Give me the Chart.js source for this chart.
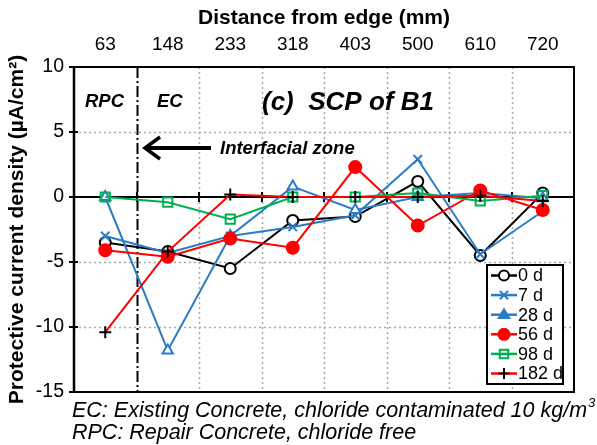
<!DOCTYPE html>
<html>
<head>
<meta charset="utf-8">
<script src="https://cdn.jsdelivr.net/npm/chart.js@4.4.0/dist/chart.umd.min.js"></script>
<style>
  html, body { margin: 0; padding: 0; background: #fff; }
</style>
</head>
<body>
<canvas id="scpChart" width="597" height="445"></canvas>
<script>
// distance from edge (mm) - top axis categories
const distances = ['63', '148', '233', '318', '403', '500', '610', '720'];
const yTicks = [10, 5, 0, -5, -10, -15];

// protective current density (uA/cm2)
const day0   = [-3.5, -4.2, -5.5, -1.8, -1.5, 1.2, -4.5, 0.3];
const day7   = [-3.0, -4.3, -3.0, -2.3, -1.4, 2.9, -4.4, -1.1];
const day28  = [0.0, -11.8, -3.0, 0.8, -1.0, 0.0, 0.3, -0.1];
const day56  = [-4.1, -4.6, -3.2, -3.9, 2.3, -2.2, 0.5, -1.0];
const day98  = [0.0, -0.4, -1.7, 0.0, 0.0, 0.3, -0.3, 0.1];
const day182 = [-10.4, -4.2, 0.2, 0.0, 0.0, 0.0, 0.1, -0.3];

const BLUE = '#2a7cc7';
const RED = '#ff0000';
const GREEN = '#00b050';
const FONT = '"Liberation Sans", Arial, sans-serif';

const series = [
  { label: '0 d',   data: day0,   line: '#000', style: 'circle',   r: 5.5, fill: '#fff',  pt: '#000', legendFill: '#fff' },
  { label: '7 d',   data: day7,   line: BLUE,   style: 'crossRot', r: 6,   fill: BLUE,    pt: BLUE,   legendFill: BLUE },
  { label: '28 d',  data: day28,  line: BLUE,   style: 'triangle', r: 6,   fill: '#fff',  pt: BLUE,   legendFill: BLUE },
  { label: '56 d',  data: day56,  line: RED,    style: 'circle',   r: 6,   fill: RED,     pt: RED,    legendFill: RED },
  { label: '98 d',  data: day98,  line: GREEN,  style: 'rect',     r: 6.5, fill: 'rgba(0,0,0,0)', pt: GREEN, legendFill: 'rgba(0,0,0,0)' },
  { label: '182 d', data: day182, line: RED,    style: 'cross',    r: 6,   fill: '#000',  pt: '#000', legendFill: '#000' }
];

function marker(ctx, style, x, y, r, stroke, fill) {
  ctx.save();
  ctx.strokeStyle = stroke;
  ctx.fillStyle = fill;
  ctx.lineWidth = 2;
  ctx.beginPath();
  if (style === 'circle') {
    ctx.arc(x, y, r, 0, Math.PI * 2);
    ctx.fill(); ctx.stroke();
  } else if (style === 'triangle') {
    ctx.moveTo(x, y - r);
    ctx.lineTo(x + r * 0.95, y + r * 0.6);
    ctx.lineTo(x - r * 0.95, y + r * 0.6);
    ctx.closePath();
    ctx.fill(); ctx.stroke();
  } else if (style === 'rect') {
    const s = r * Math.SQRT1_2;
    ctx.rect(x - s, y - s, 2 * s, 2 * s);
    ctx.fill(); ctx.stroke();
  } else if (style === 'cross') {
    ctx.moveTo(x - r, y); ctx.lineTo(x + r, y);
    ctx.moveTo(x, y - r); ctx.lineTo(x, y + r);
    ctx.stroke();
  } else if (style === 'crossRot') {
    const s = r * 0.75;
    ctx.moveTo(x - s, y - s); ctx.lineTo(x + s, y + s);
    ctx.moveTo(x - s, y + s); ctx.lineTo(x + s, y - s);
    ctx.stroke();
  }
  ctx.restore();
}

const decorPlugin = {
  id: 'decor',
  beforeDatasetsDraw(chart) {
    const { ctx, chartArea: a, scales: { x, y } } = chart;
    ctx.save();
    // dotted horizontal grid
    ctx.strokeStyle = '#a6a6a6';
    ctx.lineWidth = 1.5;
    ctx.setLineDash([2, 3]);
    yTicks.forEach(v => {
      if (v === 0 || v === 10 || v === -15) return;
      const py = Math.round(y.getPixelForValue(v)) + 0.5;
      ctx.beginPath(); ctx.moveTo(a.left, py); ctx.lineTo(a.right, py); ctx.stroke();
    });
    // vertical boundaries between categories
    for (let i = 0; i < distances.length - 1; i++) {
      const px = Math.round((x.getPixelForValue(i) + x.getPixelForValue(i + 1)) / 2) + 0.5;
      ctx.beginPath();
      if (i === 0) {
        ctx.strokeStyle = '#000';
        ctx.lineWidth = 2;
        ctx.setLineDash([11, 3, 2, 3]);
      } else {
        ctx.strokeStyle = '#a6a6a6';
        ctx.lineWidth = 1.5;
        ctx.setLineDash([2, 3]);
      }
      ctx.moveTo(px, a.top); ctx.lineTo(px, a.bottom); ctx.stroke();
    }
    ctx.setLineDash([]);
    // zero line with cross tick marks
    const y0 = Math.round(y.getPixelForValue(0));
    ctx.strokeStyle = '#000';
    ctx.lineWidth = 2;
    ctx.beginPath(); ctx.moveTo(a.left, y0); ctx.lineTo(a.right, y0); ctx.stroke();
    for (let i = 0; i < distances.length - 1; i++) {
      const px = Math.round((x.getPixelForValue(i) + x.getPixelForValue(i + 1)) / 2);
      ctx.beginPath(); ctx.moveTo(px, y0 - 5); ctx.lineTo(px, y0 + 5); ctx.stroke();
    }
    // plot frame
    ctx.lineWidth = 2;
    ctx.strokeRect(a.left, a.top, a.right - a.left, a.bottom - a.top);
    ctx.lineWidth = 2.5;
    ctx.beginPath(); ctx.moveTo(a.left, a.top); ctx.lineTo(a.left, a.bottom); ctx.stroke();
    // y tick marks
    ctx.lineWidth = 2;
    yTicks.forEach(v => {
      const py = Math.round(y.getPixelForValue(v));
      ctx.beginPath(); ctx.moveTo(a.left - 5, py); ctx.lineTo(a.left + 4, py); ctx.stroke();
    });
    ctx.restore();
  },
  afterDraw(chart) {
    const { ctx } = chart;
    ctx.save();
    ctx.fillStyle = '#000';
    ctx.textBaseline = 'middle';
    ctx.textAlign = 'left';
    ctx.font = 'italic bold 18.5px ' + FONT;
    ctx.fillText('RPC', 85, 102);
    ctx.fillText('EC', 157, 102);
    ctx.font = 'italic bold 26px ' + FONT;
    ctx.fillText('(c)  SCP of B1', 262, 103);
    ctx.font = 'italic bold 18.5px ' + FONT;
    ctx.fillText('Interfacial zone', 220, 149);
    // arrow
    ctx.strokeStyle = '#000';
    ctx.lineWidth = 4;
    ctx.lineCap = 'butt';
    ctx.beginPath(); ctx.moveTo(211, 148); ctx.lineTo(146, 148); ctx.stroke();
    ctx.lineWidth = 3.5;
    ctx.beginPath();
    ctx.moveTo(160, 137); ctx.lineTo(145, 148); ctx.lineTo(160, 159);
    ctx.stroke();
    // notes under the plot
    ctx.font = 'italic 21.5px ' + FONT;
    const t1 = 'EC: Existing Concrete, chloride contaminated 10 kg/m';
    ctx.fillText(t1, 72, 411);
    const w1 = ctx.measureText(t1).width;
    ctx.font = 'italic 13px ' + FONT;
    ctx.fillText('3', 72 + w1 + 1, 403);
    ctx.font = 'italic 21.5px ' + FONT;
    ctx.fillText('RPC: Repair Concrete, chloride free', 72, 433);
    // legend
    const lx = 487, ly = 265, lw = 76, lh = 119;
    ctx.fillStyle = '#fff';
    ctx.fillRect(lx, ly, lw, lh);
    ctx.strokeStyle = '#000';
    ctx.lineWidth = 2;
    ctx.strokeRect(lx, ly, lw, lh);
    ctx.font = '18px ' + FONT;
    series.forEach((s, k) => {
      const cy = 275.5 + k * 19.6;
      ctx.strokeStyle = s.line;
      ctx.lineWidth = 2.5;
      ctx.beginPath(); ctx.moveTo(491, cy); ctx.lineTo(517, cy); ctx.stroke();
      marker(ctx, s.style, 504, cy, s.r - 0.5, s.pt, s.legendFill);
      ctx.fillStyle = '#000';
      ctx.fillText(s.label, 518, cy + 1);
    });
    ctx.restore();
  }
};

new Chart(document.getElementById('scpChart'), {
  type: 'line',
  data: {
    labels: distances,
    datasets: series.map((s, i) => ({
      label: s.label,
      data: s.data,
      borderColor: s.line,
      borderWidth: 2,
      tension: 0,
      fill: false,
      pointStyle: s.style,
      pointRadius: s.r,
      pointBorderColor: s.pt,
      pointBackgroundColor: s.fill,
      pointBorderWidth: 2,
      order: series.length - 1 - i
    }))
  },
  options: {
    responsive: false,
    animation: false,
    layout: { padding: { left: 0, right: 23, top: 0, bottom: 53 } },
    plugins: {
      legend: { display: false },
      tooltip: { enabled: false }
    },
    scales: {
      x: {
        type: 'category',
        position: 'top',
        offset: true,
        grid: { display: false, drawTicks: false },
        border: { display: false },
        ticks: { color: '#000', font: { family: FONT, size: 19 }, padding: 11, maxRotation: 0 },
        title: {
          display: true,
          text: 'Distance from edge (mm)',
          color: '#000',
          font: { family: FONT, size: 21, weight: 'bold' },
          padding: { top: 6, bottom: 0 }
        },
        afterFit(scale) { scale.height = 67; }
      },
      y: {
        min: -15,
        max: 10,
        grid: { display: false, drawTicks: false },
        border: { display: false },
        ticks: { stepSize: 5, color: '#000', font: { family: FONT, size: 19.5 }, padding: 10 },
        title: {
          display: true,
          text: 'Protective current density (µA/cm²)',
          color: '#000',
          font: { family: FONT, size: 21, weight: 'bold' },
          padding: { top: 5, bottom: 0 }
        },
        afterFit(scale) { scale.width = 74; }
      }
    }
  },
  plugins: [decorPlugin]
});
</script>
</body>
</html>
